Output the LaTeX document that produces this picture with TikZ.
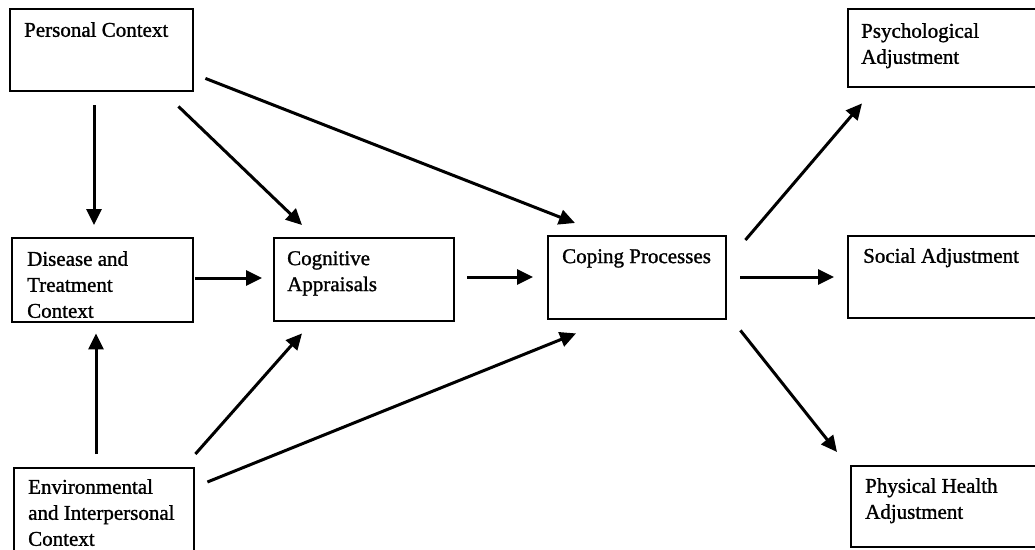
\documentclass[tikz,border=0pt]{standalone}
\usepackage{fontspec}
\setmainfont{Liberation Serif}[FakeBold=1.2]
\usetikzlibrary{arrows.meta}
\begin{document}
\begin{tikzpicture}[x=1pt,y=-1pt,
  box/.style={draw, line width=2.4pt, inner sep=0pt, anchor=north west},
  lbl/.style={anchor=north west, inner sep=0pt, align=left,
    font=\fontsize{21}{26}\selectfont\addfontfeatures{FakeBold=1.2}},
  arr/.style={line width=3pt, -{Triangle[length=16pt,width=15pt]}}]
\useasboundingbox (0,0) rectangle (1035,549);

% boxes
\node[box, minimum width=183pt, minimum height=82pt] (pc) at (9,8) {};
\node[box, minimum width=181pt, minimum height=84pt] (dt) at (11,237) {};
\node[box, minimum width=180pt, minimum height=86pt] (ei) at (13,467) {};
\node[box, minimum width=180pt, minimum height=83pt] (ca) at (273,237) {};
\node[box, minimum width=178pt, minimum height=83pt] (cp) at (547,235) {};
\node[box, minimum width=200pt, minimum height=78pt] (pa) at (847,8) {};
\node[box, minimum width=200pt, minimum height=82pt] (sa) at (847,235) {};
\node[box, minimum width=200pt, minimum height=81pt] (ph) at (850,465) {};

% box texts
\node[lbl] (pc-l) at ([shift={(15,14)}]pc.north west) {Personal Context};
\node[lbl] (dt-l) at ([shift={(16,14)}]dt.north west) {Disease and\\Treatment\\Context};
\node[lbl] (ei-l) at ([shift={(15,12)}]ei.north west) {Environmental\\and Interpersonal\\Context};
\node[lbl] (ca-l) at ([shift={(14,14)}]ca.north west) {Cognitive\\Appraisals};
\node[lbl] (cp-l) at ([shift={(15,14)}]cp.north west) {Coping Processes};
\node[lbl] (pa-l) at ([shift={(14,15)}]pa.north west) {Psychological\\Adjustment};
\node[lbl] (sa-l) at ([shift={(16,13)}]sa.north west) {Social Adjustment};
\node[lbl] (ph-l) at ([shift={(15,13)}]ph.north west) {Physical Health\\Adjustment};

% connectors
\draw[arr] ([shift={(85,13)}]pc.south west) -- ([shift={(83,-12)}]dt.north west);
\draw[arr] ([shift={(83,-13)}]ei.north west) -- ([shift={(85,10)}]dt.south west);
\draw[arr] ([shift={(1,41)}]dt.north east) -- ([shift={(-11,41)}]ca.north west);
\draw[arr] ([shift={(-16,14)}]pc.south east) -- ([shift={(29,-12)}]ca.north west);
\draw[arr] ([shift={(11,-14)}]pc.south east) -- ([shift={(28,-12)}]cp.north west);
\draw[arr] ([shift={(0,-13)}]ei.north east) -- ([shift={(29,11)}]ca.south west);
\draw[arr] ([shift={(12,15)}]ei.north east) -- ([shift={(29,13)}]cp.south west);
\draw[arr] ([shift={(12,40)}]ca.north east) -- ([shift={(-14,42)}]cp.north west);
\draw[arr] ([shift={(13,42)}]cp.north east) -- ([shift={(-13,42)}]sa.north west);
\draw[arr] ([shift={(18,5)}]cp.north east) -- ([shift={(15,15)}]pa.south west);
\draw[arr] ([shift={(13,10)}]cp.south east) -- ([shift={(-13,-13)}]ph.north west);
\end{tikzpicture}
\end{document}
